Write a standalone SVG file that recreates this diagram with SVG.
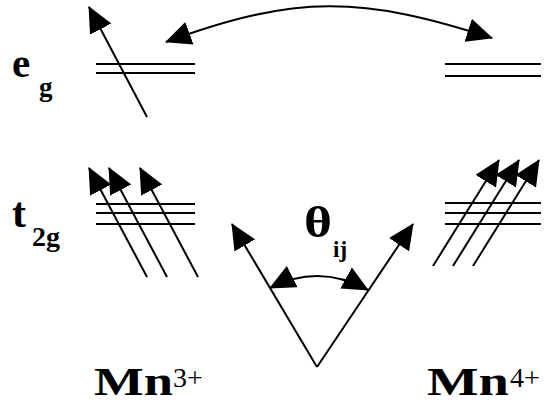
<svg xmlns="http://www.w3.org/2000/svg" width="554" height="403" viewBox="0 0 554 403">
<style>
.lvl{stroke:#000;stroke-width:2;fill:none}
.arr{stroke:#000;stroke-width:2;fill:none;marker-end:url(#ah)}
.bi{stroke:#000;stroke-width:2;fill:none;marker-start:url(#ahs);marker-end:url(#ah)}
text{font-family:'Liberation Serif','Times New Roman',Times,serif;fill:#000}
.t{font-weight:700}
.sup{font-weight:400}
</style>
<defs>
<marker id="ah" markerUnits="userSpaceOnUse" viewBox="0 0 26 24" refX="25" refY="12" markerWidth="26" markerHeight="24" orient="auto">
<path d="M0,0 L26,12 L0,24 z" fill="#000"/>
</marker>
<marker id="ahs" markerUnits="userSpaceOnUse" viewBox="0 0 26 24" refX="1" refY="12" markerWidth="26" markerHeight="24" orient="auto">
<path d="M26,0 L0,12 L26,24 z" fill="#000"/>
</marker>
</defs>
<rect width="554" height="403" fill="#fff"/>
<g id="label-eg">
<text class="t" x="12" y="77" font-size="41">e</text>
<text class="t" x="39" y="96" font-size="27">g</text>
</g>
<g id="label-t2g">
<text class="t" x="12" y="227" font-size="42">t</text>
<text class="t" x="32" y="246" font-size="28">2g</text>
</g>
<g id="mn3-eg">
<line class="lvl" x1="96" y1="64" x2="195" y2="64"/>
<line class="lvl" x1="96" y1="73" x2="195" y2="73"/>
</g>
<g id="mn4-eg">
<line class="lvl" x1="445" y1="64" x2="541" y2="64"/>
<line class="lvl" x1="445" y1="76" x2="541" y2="76"/>
</g>
<g id="mn3-t2g">
<line class="lvl" x1="96" y1="204" x2="195" y2="204"/>
<line class="lvl" x1="96" y1="213" x2="195" y2="213"/>
<line class="lvl" x1="96" y1="224" x2="195" y2="224"/>
</g>
<g id="mn4-t2g">
<line class="lvl" x1="445" y1="203" x2="541" y2="203"/>
<line class="lvl" x1="445" y1="213" x2="541" y2="213"/>
<line class="lvl" x1="445" y1="224" x2="541" y2="224"/>
</g>
<g id="theta-label">
<text class="t" x="304" y="237" font-size="44" textLength="28" lengthAdjust="spacingAndGlyphs">θ</text>
<text class="t" x="333" y="257" font-size="23">ij</text>
</g>
<g id="mn3-label">
<text class="t" x="94" y="395" font-size="41" textLength="79" lengthAdjust="spacingAndGlyphs">Mn</text>
<text class="sup" x="173" y="387" font-size="28">3+</text>
</g>
<g id="mn4-label">
<text class="t" x="427" y="395" font-size="41" textLength="82" lengthAdjust="spacingAndGlyphs">Mn</text>
<text class="sup" x="510" y="387" font-size="28">4+</text>
</g>
<g id="connectors">
<line class="arr" x1="147" y1="117" x2="89" y2="7"/>
<path class="bi" d="M166,42 C296,-6 362,-4 492,38"/>
<line class="arr" x1="147" y1="277" x2="89" y2="168"/>
<line class="arr" x1="167" y1="277" x2="109" y2="168"/>
<line class="arr" x1="198" y1="277" x2="140" y2="168"/>
<line class="arr" x1="433" y1="266" x2="499" y2="160"/>
<line class="arr" x1="453" y1="266" x2="519" y2="160"/>
<line class="arr" x1="473" y1="266" x2="539" y2="160"/>
<line class="arr" x1="317" y1="367" x2="232" y2="224"/>
<line class="arr" x1="317" y1="367" x2="413" y2="224"/>
<path class="bi" d="M270,288 Q319,263 368,290"/>
</g>
</svg>
